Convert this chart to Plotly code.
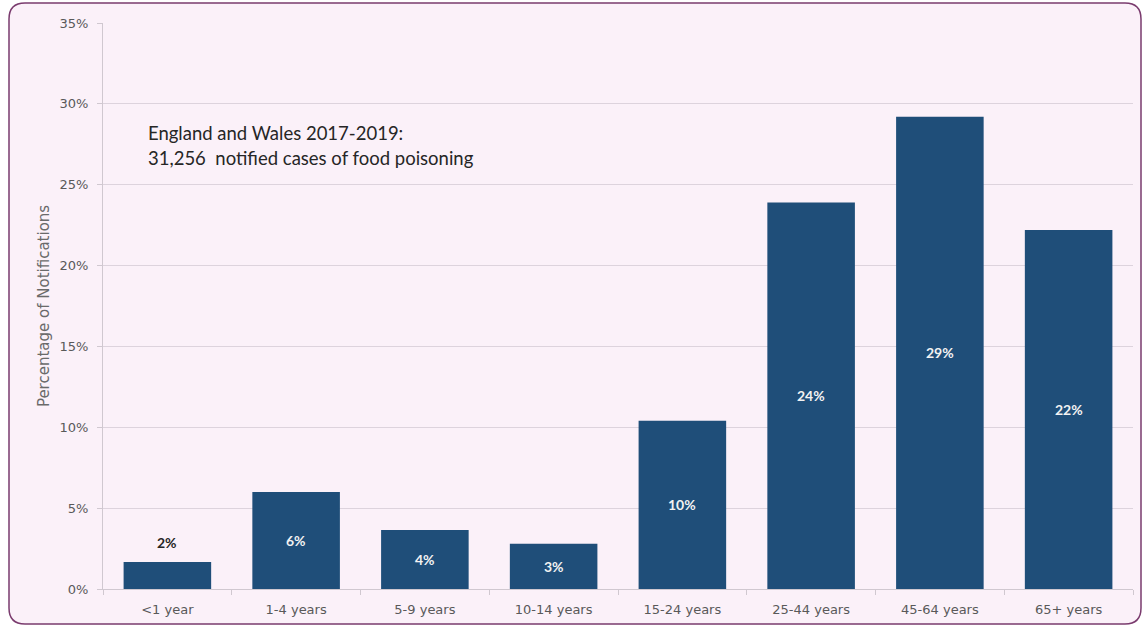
import plotly.graph_objects as go

categories = ["<1 year", "1-4 years", "5-9 years", "10-14 years", "15-24 years",
              "25-44 years", "45-64 years", "65+ years"]
values = [1.67, 6.0, 3.65, 2.8, 10.4, 23.9, 29.2, 22.2]
value_labels = ["2%", "6%", "4%", "3%", "10%", "24%", "29%", "22%"]
y_ticks = [0, 5, 10, 15, 20, 25, 30, 35]
y_tick_labels = ["0%", "5%", "10%", "15%", "20%", "25%", "30%", "35%"]
note_line1 = "England and Wales 2017-2019:"
note_line2 = "31,256  notified cases of food poisoning"
y_title = "Percentage of Notifications"

W, H = 1144, 626
L, R, T, B = 103, 11, 23, 37
pw, ph = W - L - R, H - T - B

def px(x):
    return (x - L) / pw

def py(y):
    return 1 - (y - T) / ph

bar_color = "#1f4e79"

fig = go.Figure()
fig.add_trace(go.Bar(
    x=categories, y=values, marker=dict(color=bar_color, line=dict(width=0)),
    width=0.68, hoverinfo="x+y",
))

annotations = []
for i, (c, v, lab) in enumerate(zip(categories, values, value_labels)):
    if v < 2:
        annotations.append(dict(x=c, y=v, xref="x", yref="y", text="<b>%s</b>" % lab,
                                showarrow=False, yshift=19, yanchor="middle",
                                font=dict(family="Lato", size=14, color="#262626")))
    else:
        annotations.append(dict(x=c, y=v / 2, xref="x", yref="y", text="<b>%s</b>" % lab,
                                showarrow=False, yanchor="middle",
                                font=dict(family="Lato", size=14, color="#f2f2f2")))

annotations.append(dict(x=px(146), y=py(133), xref="paper", yref="paper", text=note_line1,
                        showarrow=False, xanchor="left", yanchor="middle",
                        font=dict(family="Lato", size=18.5, color="#262626")))
annotations.append(dict(x=px(146), y=py(158), xref="paper", yref="paper", text=note_line2,
                        showarrow=False, xanchor="left", yanchor="middle",
                        font=dict(family="Lato", size=18.5, color="#262626")))

# rounded frame
x0, y0, x1, y1, r = px(9), py(3), px(1141), py(624), 16
rx, ry = r / pw, r / ph
path = (f"M {x0+rx},{y0} L {x1-rx},{y0} Q {x1},{y0} {x1},{y0-ry} "
        f"L {x1},{y1+ry} Q {x1},{y1} {x1-rx},{y1} L {x0+rx},{y1} "
        f"Q {x0},{y1} {x0},{y1+ry} L {x0},{y0-ry} Q {x0},{y0} {x0+rx},{y0} Z")

fig.update_layout(
    width=W, height=H,
    margin=dict(l=L, r=R, t=T, b=B, autoexpand=False),
    paper_bgcolor="white",
    plot_bgcolor="rgba(0,0,0,0)",
    showlegend=False,
    bargap=0.32,
    annotations=annotations,
    shapes=[dict(type="path", path=path, xref="paper", yref="paper",
                 fillcolor="#fbf1f9", line=dict(color="#7a3b6e", width=1.5),
                 layer="below")],
    xaxis=dict(
        type="category", tickson="boundaries", ticks="outside", ticklen=5,
        tickcolor="#d0c8d0", showline=True, linecolor="#d0c8d0", linewidth=1,
        showgrid=False, tickfont=dict(family="DejaVu Sans", size=13, color="#595959"),
        ticklabelstandoff=8,
        fixedrange=True,
    ),
    yaxis=dict(
        range=[0, 35], tickvals=y_ticks, ticktext=y_tick_labels,
        ticks="outside", ticklen=5, tickcolor="#d0c8d0",
        showline=True, linecolor="#d0c8d0", linewidth=1,
        showgrid=True, gridcolor="#ddd3dd", gridwidth=1, zeroline=False,
        tickfont=dict(family="DejaVu Sans", size=13, color="#595959"),
        ticklabelstandoff=6,
        title=dict(text=y_title, standoff=6,
                   font=dict(family="DejaVu Sans", size=15, color="#6a6a6a")),
        fixedrange=True,
    ),
)

fig.write_html("out.html", config={"displayModeBar": False},
               post_script="document.body.style.margin='0';document.body.style.overflow='hidden';")
